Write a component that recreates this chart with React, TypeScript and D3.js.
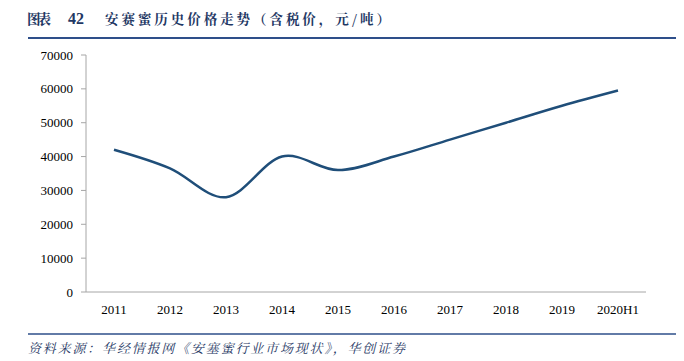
import React from "react";
import * as d3 from "d3";

const categories = ["2011", "2012", "2013", "2014", "2015", "2016", "2017", "2018", "2019", "2020H1"];
const prices = [42000, 36500, 28000, 40000, 36000, 40000, 45000, 50000, 55000, 59500];
const yTicks = [0, 10000, 20000, 30000, 40000, 50000, 60000, 70000];
const titleLabel = "图表";
const titleNumber = "42";
const titleText = "安赛蜜历史价格走势（含税价，元/吨）";
const sourceText = "资料来源：华经情报网《安塞蜜行业市场现状》，华创证券";

export default function App() {
  const W = 684, H = 361;
  const left = 86, right = 646, top = 55, bottom = 292;
  const x = d3.scaleBand<string>().domain(categories).range([left, right]);
  const y = d3.scaleLinear().domain([0, 70000]).range([bottom, top]);
  const line = d3
    .line<number>()
    .x((_, i) => (x(categories[i]) as number) + x.bandwidth() / 2)
    .y((d) => y(d))
    .curve(d3.curveCatmullRom.alpha(0));
  const serif = "'Liberation Serif', 'Times New Roman', serif";
  const cjk = "'Noto Serif CJK SC', 'Noto Sans CJK SC', serif";
  const navy = "#1F3864";
  return (
    <svg width={W} height={H} style={{ position: "absolute", left: 0, top: 0 }}>
      <rect width={W} height={H} fill="#fff" />
      <text x={27} y={24} fontSize={13.5} fontWeight="bold" fill={navy} fontFamily={cjk}
        textLength={24} lengthAdjust="spacing">
        {titleLabel}
      </text>
      <text x={68} y={24} fontSize={16} fontWeight="bold" fill={navy} fontFamily={serif}>
        {titleNumber}
      </text>
      <text x={105} y={24} fontSize={13.5} fontWeight="bold" fill={navy} fontFamily={cjk}
        textLength={285} lengthAdjust="spacing">
        {titleText}
      </text>
      <line x1={28} x2={676} y1={38} y2={38} stroke="#2E4F8A" strokeWidth={2} />
      {yTicks.map((t) => (
        <g key={t}>
          <line x1={left - 5} x2={left} y1={y(t)} y2={y(t)} stroke="#A6A6A6" />
          <text x={73} y={y(t)} dy="0.35em" textAnchor="end" fontSize={13} fontFamily={serif} fill="#000">
            {t}
          </text>
        </g>
      ))}
      <line x1={left} x2={left} y1={top} y2={bottom} stroke="#A6A6A6" />
      <line x1={left} x2={right} y1={bottom} y2={bottom} stroke="#A6A6A6" />
      {categories.map((c) => (
        <text key={c} x={(x(c) as number) + x.bandwidth() / 2} y={314} textAnchor="middle" fontSize={13}
          fontFamily={serif} fill="#000">
          {c}
        </text>
      ))}
      <path d={line(prices) || ""} fill="none" stroke="#1F4E79" strokeWidth={2.5} />
      <line x1={28} x2={676} y1={334} y2={334} stroke="#2E4F8A" strokeWidth={1.5} />
      <text x={28} y={353} fontSize={13} fontStyle="italic" fill={navy} fontFamily={cjk}
        textLength={377} lengthAdjust="spacing">
        {sourceText}
      </text>
    </svg>
  );
}
